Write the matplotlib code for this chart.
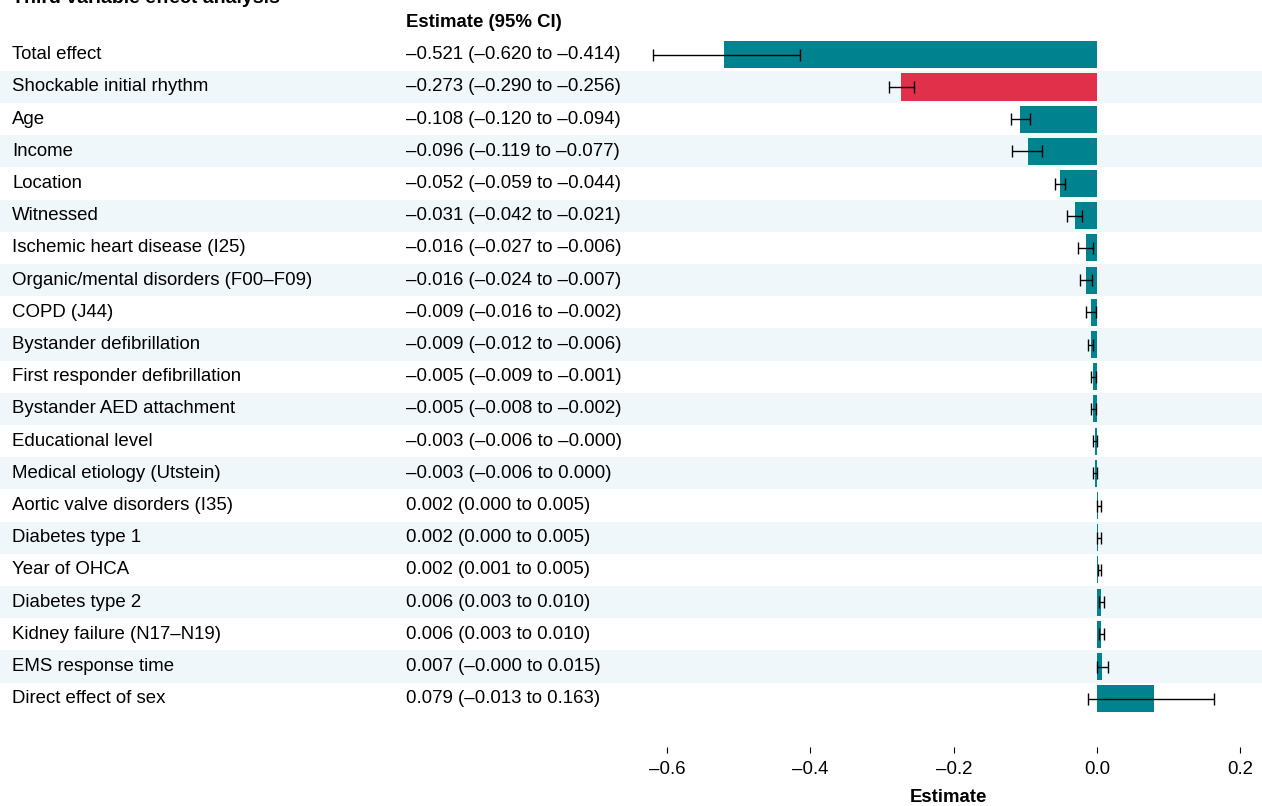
import numpy as np
import matplotlib.pyplot as plt
import matplotlib.transforms as mtransforms
from matplotlib.ticker import FuncFormatter

plt.rcParams['font.family'] = ['Liberation Sans', 'DejaVu Sans']

labels = ['Total effect', 'Shockable initial rhythm', 'Age', 'Income', 'Location',
          'Witnessed', 'Ischemic heart disease (I25)', 'Organic/mental disorders (F00\u2013F09)',
          'COPD (J44)', 'Bystander defibrillation', 'First responder defibrillation',
          'Bystander AED attachment', 'Educational level', 'Medical etiology (Utstein)',
          'Aortic valve disorders (I35)', 'Diabetes type 1', 'Year of OHCA',
          'Diabetes type 2', 'Kidney failure (N17\u2013N19)', 'EMS response time',
          'Direct effect of sex']
est = np.array([-0.521, -0.273, -0.108, -0.096, -0.052, -0.031, -0.016, -0.016, -0.009,
                -0.009, -0.005, -0.005, -0.003, -0.003, 0.002, 0.002, 0.002, 0.006,
                0.006, 0.007, 0.079])
lo = np.array([-0.620, -0.290, -0.120, -0.119, -0.059, -0.042, -0.027, -0.024, -0.016,
               -0.012, -0.009, -0.008, -0.006, -0.006, 0.000, 0.000, 0.001, 0.003,
               0.003, -0.000, -0.013])
hi = np.array([-0.414, -0.256, -0.094, -0.077, -0.044, -0.021, -0.006, -0.007, -0.002,
               -0.006, -0.001, -0.002, -0.000, 0.000, 0.005, 0.005, 0.005, 0.010,
               0.010, 0.015, 0.163])
highlight = 'Shockable initial rhythm'

teal = '#00838f'
red = '#e0304a'
stripe = '#eff7fa'
fs = 13.4


def fmt(v):
    s = f'{v:.3f}'
    if v < 0 or s.startswith('-'):
        s = '\u2013' + s.lstrip('-')
    return s


fig = plt.figure(figsize=(12.62, 8.06), dpi=100)
ax = fig.add_axes([0, 0.0732, 1, 0.88])
n = len(labels)
y = np.arange(n)

for i in range(n):
    if i % 2 == 1:
        ax.axhspan(i - 0.5, i + 0.5, color=stripe, lw=0, zorder=0)

colors = [red if l == highlight else teal for l in labels]
ax.barh(y, est, height=0.84, color=colors, zorder=2)
ax.errorbar(est, y, xerr=[est - lo, hi - est], fmt='none', ecolor='black',
            elinewidth=1, capsize=4, capthick=1, zorder=3)

# 0 at px 1097, 716.5 px per unit
ax.set_xlim(-1097 / 716.5, (1262 - 1097) / 716.5)
ax.set_ylim(21.5, -0.53)
ax.set_xticks([-0.6, -0.4, -0.2, 0.0, 0.2])
ax.xaxis.set_major_formatter(FuncFormatter(lambda v, p: fmt(v)[:-2] if abs(v) > 1e-9 else '0.0'))
ax.tick_params(axis='x', length=4, width=0.8, labelsize=fs, pad=6)
ax.set_yticks([])
for s in ax.spines.values():
    s.set_visible(False)

trans = mtransforms.blended_transform_factory(fig.transFigure, ax.transData)
for i, l in enumerate(labels):
    ax.text(12 / 1262, i, l, transform=trans, va='center', ha='left', fontsize=fs)
    ax.text(406 / 1262, i, f'{fmt(est[i])} ({fmt(lo[i])} to {fmt(hi[i])})',
            transform=trans, va='center', ha='left', fontsize=fs)
ax.text(406 / 1262, -1, 'Estimate (95% CI)', transform=trans, va='center', ha='left',
        fontsize=fs, fontweight='bold', clip_on=False)

fig.text(948 / 1262, 9 / 806, 'Estimate', ha='center', va='center',
         fontsize=fs, fontweight='bold')
fig.text(12 / 1262, 1 - 3 / 806, 'Third variable effect analysis', ha='left',
         va='baseline', fontsize=14, fontweight='bold')

fig.savefig('out.png', dpi=100)
